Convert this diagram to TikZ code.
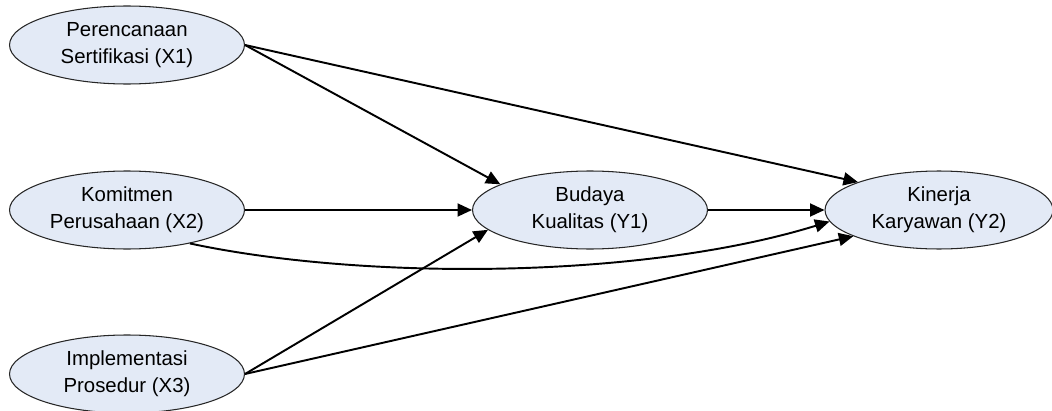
\documentclass[tikz,border=0pt]{standalone}
\usepackage{fontspec}
\setmainfont{Liberation Sans}
\usetikzlibrary{shapes.geometric,arrows.meta}
\definecolor{varfill}{RGB}{227,234,246}

\begin{document}
\begin{tikzpicture}[x=0.02cm, y=0.02cm,
        var/.style={ellipse, draw=black!85, line width=0.6pt, fill=varfill,
            minimum width=4.7cm, minimum height=1.56cm, inner sep=0pt,
            align=center, font=\fontsize{11.6}{15.3}\selectfont},
        arrowline/.style={black, line width=1.1pt, -{Triangle[length=0.29cm, width=0.26cm]}}]
            \useasboundingbox (0,0) rectangle (1052,410);

            % exogenous
            \node[var] (X1) at (127,365) {Perencanaan\\Sertifikasi (X1)};
            \node[var] (X2) at (127,200) {Komitmen\\Perusahaan (X2)};
            \node[var] (X3) at (127,36) {Implementasi\\Prosedur (X3)};

            % endogenous
            \node[var] (Y1) at (590,200) {Budaya\\Kualitas (Y1)};
            \node[var, minimum width=4.56cm] (Y2) at (939,200) {Kinerja\\Karyawan (Y2)};

            \draw[arrowline] (X1.east) -- (Y1.164);
            \draw[arrowline] (X1.east) -- (Y2.161);
            \draw[arrowline] (X2.east) -- (Y1.west);
            \draw[arrowline] (X2.-28) .. controls (360,130) and (640,130) .. (Y2.186);
            \draw[arrowline] (X3.east) -- (Y1.191);
            \draw[arrowline] (X3.east) -- (Y2.197);
            \draw[arrowline] (Y1.east) -- (Y2.west);
        \end{tikzpicture}
\end{document}
